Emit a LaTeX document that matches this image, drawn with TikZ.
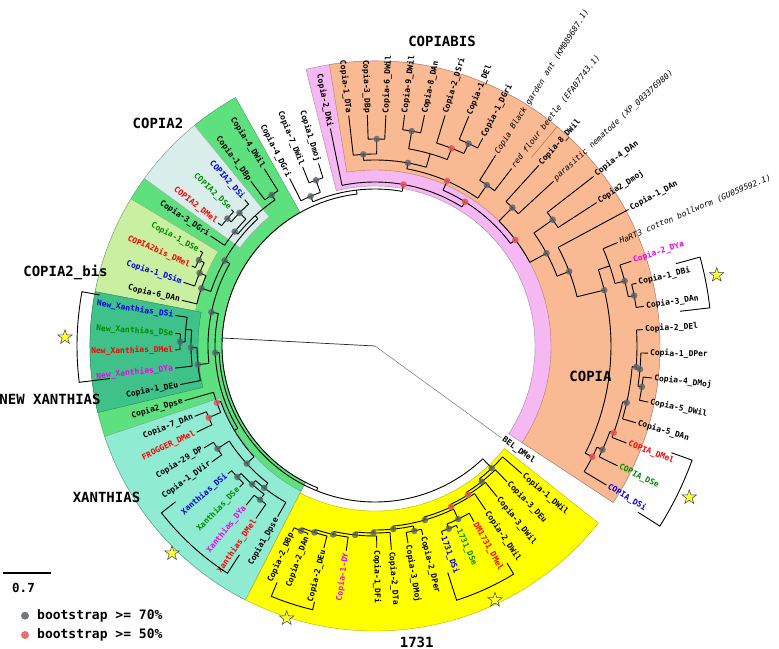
\documentclass[tikz,border=0pt]{standalone}
\usepackage{fontspec}
\usetikzlibrary{shapes.geometric}
\newfontfamily\monof{DejaVu Sans Mono}
\definecolor{cpink}{HTML}{F5B8F2}
\definecolor{corange}{HTML}{F9B992}
\definecolor{cyellow}{HTML}{FFFF00}
\definecolor{cgreen}{HTML}{5FE07F}
\definecolor{cpale}{HTML}{D9EEEB}
\definecolor{clime}{HTML}{C9F0A0}
\definecolor{cteal}{HTML}{3FC28A}
\definecolor{caqua}{HTML}{8FEBD2}
\definecolor{tred}{HTML}{FF0000}
\definecolor{tgreen}{HTML}{008A00}
\definecolor{tblue}{HTML}{0000E0}
\definecolor{tmag}{HTML}{F000F0}
\definecolor{dotgrey}{HTML}{56626A}
\definecolor{dotred}{HTML}{E05858}
\definecolor{stary}{HTML}{FFFF33}
\newcounter{lfc}
\newcommand\bandsec[5]{\filldraw[fill=#5,draw=#5!70!black,line width=0.4pt] ({#1}:#3pt) arc[start angle=#1,end angle=#2,radius=#3pt] -- ({#2}:#4pt) arc[start angle=#2,end angle=#1,radius=#4pt] -- cycle;}
\newcommand\tnode[6]{% name, angle, rparent, r, amin, amax
 \coordinate (#1) at ({#2}:#4pt);
 \draw[br] ({#2}:#3pt) -- (#1);
 \draw[br] ({#5}:#4pt) arc[start angle=#5,end angle=#6,radius=#4pt];}
\newcommand\tleaf[5]{% angle, rparent, rlabel, text, style
 \stepcounter{lfc}%
 \draw[br] ({#1}:#2pt) -- ({#1}:{(#3-2)*1pt});
 \pgfmathtruncatemacro\flip{and(#1>90,#1<270)}%
 \ifnum\flip=1
  \node[lab,#5,anchor=east,rotate={#1+180}] (leaf\arabic{lfc}) at ({#1}:#3pt) {#4};
 \else
  \node[lab,#5,anchor=west,rotate={#1}] (leaf\arabic{lfc}) at ({#1}:#3pt) {#4};
 \fi}
\newcommand\bracketp[5]{% a1, r1, a2, r2, R
 \draw[brk] ({#1}:#2pt) -- ({#1}:#5pt) arc[start angle=#1,end angle=#3,radius=#5pt] -- ({#3}:#4pt);}
\begin{document}
\begin{tikzpicture}[x=1pt,y=1pt,
 br/.style={line width=0.9pt,black},
 lab/.style={font=\monof\bfseries\fontsize{8}{9}\selectfont,inner sep=0pt,text=black},
 titl/.style={font=\monof\itshape\fontsize{8}{9}\selectfont},
 tcr/.style={text=tred}, tcg/.style={text=tgreen}, tcb/.style={text=tblue}, tcm/.style={text=tmag},
 grp/.style={font=\monof\bfseries\fontsize{14}{16}\selectfont,inner sep=0pt},
 leg/.style={font=\monof\bfseries\fontsize{13}{15}\selectfont,inner sep=0pt},
 brk/.style={line width=0.9pt,black},
 strs/.style={star,star points=5,star point ratio=2.5,fill=stary,draw=black!75,line width=0.5pt,minimum size=15pt,inner sep=0pt}]
\useasboundingbox (-375,-302) rectangle (404,346);
\fill[white] (-375,-302) rectangle (404,346);
% colour ranges
\bandsec{-33.3}{104}{160}{285}{cpink}
\bandsec{-33.3}{99.2}{176}{285}{corange}
\draw[corange!60!black,line width=0.4pt] (50.3:245pt) -- (50.3:285pt);
\bandsec{119.3}{243}{153}{285}{cgreen}
\bandsec{129.3}{144}{167}{285}{cpale}
\bandsec{148.9}{169}{183}{285}{clime}
\bandsec{169}{193.5}{177}{285}{cteal}
\bandsec{198.5}{243}{163}{285}{caqua}
\bandsec{243}{321.6}{165}{285}{cyellow}
% root
\coordinate (root) at (0,0);
\coordinate (A) at (177:153pt);
\draw[line width=0.7pt,black!85] (root) -- (A);
\draw[br] (96.75:153pt) arc[start angle=96.75,end angle=248,radius=153pt];
\draw[line width=0.5pt,black!55] (root) -- (324:156pt);
\node[lab,anchor=west,rotate=324] (bel) at (324:158pt) {BEL\_DMel};
% pink / white part
\tnode{W}{96.75}{153}{157}{80}{113.3}
\tnode{WC}{113.3}{157}{163}{109.6}{117}
\tnode{WCa}{109.6}{163}{176}{107.2}{112}
\tleaf{107.2}{176}{193}{Copia1\_Dmoj}{}
\tleaf{112}{176}{195}{Copia-7\_DWil}{}
\tleaf{117}{163}{190}{Copia-4\_DGri}{}
\tnode{P}{80}{157}{164}{58}{101.6}
\tleaf{101.6}{164}{224}{Copia-2\_DKi}{}
\tnode{X}{58}{164}{170}{37.1}{66.4}
\tnode{Y}{66.4}{170}{180}{55.2}{79.8}
\tnode{GA}{55.2}{180}{196}{52.4}{57.7}
\tleaf{52.4}{196}{226}{red flour beetle (EFA07743.1)}{titl}
\tleaf{57.7}{196}{228}{Copia Black garden ant (KM089687.1)}{titl}
\tnode{CB}{79.8}{180}{186}{74}{93.5}
\tnode{Ga}{93.5}{186}{192}{89.5}{96.5}
\tleaf{96.5}{192}{234}{Copia-1\_DTa}{}
\tnode{Gb}{89.5}{192}{207}{87.3}{91.9}
\tleaf{91.9}{207}{233}{Copia-3\_DBp}{}
\tleaf{87.3}{207}{233}{Copia-6\_DWil}{}
\tnode{Gc}{74}{186}{200}{68.8}{80.3}
\tnode{Gd}{80.3}{200}{218}{77.9}{82.7}
\tleaf{82.7}{218}{235}{Copia-9\_DWil}{}
\tleaf{77.9}{218}{238}{Copia-8\_DAn}{}
\tnode{Ge}{68.8}{200}{212}{65.2}{73.1}
\tleaf{73.1}{212}{243}{Copia-2\_DSri}{}
\tnode{Gf}{65.2}{212}{223}{62.6}{67.8}
\tleaf{67.8}{223}{250}{Copia-1\_DEl}{}
\tleaf{62.6}{223}{236}{Copia-1\_DGri}{}
\tnode{K}{37.1}{170}{176}{28.4}{45.2}
\tnode{Na}{45.2}{176}{195}{42.7}{47.8}
\tleaf{47.8}{195}{246}{Copia-8\_DWil}{}
\tleaf{42.7}{195}{245}{parasitic nematode (XP\_003376980)}{titl}
\tnode{Nb}{28.4}{176}{195}{21}{35.4}
\tnode{Nc}{35.4}{195}{218}{32.9}{37.8}
\tleaf{37.8}{218}{279}{Copia-4\_DAn}{}
\tleaf{32.9}{218}{266}{Copia2\_Dmoj}{}
\tnode{Nd}{21}{195}{208}{13.7}{28.3}
\tleaf{28.3}{208}{290}{Copia-1\_DAn}{}
\tnode{Q}{13.7}{208}{236}{-27}{18.85}
\tnode{H}{18.85}{236}{248}{14.6}{23.1}
\tleaf{23.1}{248}{266}{HaRT3 cotton bollworm (GU059592.1)}{titl}
\tnode{Ya}{14.6}{248}{258}{11}{18.3}
\tleaf{18.3}{258}{272}{Copia-2\_DYa}{tcm}
\tnode{Yb}{11}{258}{264}{8.4}{13.5}
\tleaf{13.5}{264}{271}{Copia-1\_DBi}{}
\tleaf{8.4}{264}{274}{Copia-3\_DAn}{}
\tnode{D1}{-27}{236}{244}{-31}{-24.5}
\tleaf{-31}{244}{272}{COPIA\_DSi}{tcb}
\tnode{D2}{-24.5}{244}{250}{-26.3}{-20}
\tleaf{-26.3}{250}{272.5}{COPIA\_DSe}{tcg}
\tnode{D3}{-20}{250}{254}{-21.1}{-12.7}
\tleaf{-21.1}{254}{271.6}{COPIA\_DMel}{tcr}
\tnode{C2}{-12.7}{254}{258}{-16.4}{-4.6}
\tleaf{-16.4}{258}{274}{Copia-5\_DAn}{}
\tnode{U}{-4.6}{258}{262}{-5}{3.5}
\tleaf{3.5}{262}{270.5}{Copia-2\_DEl}{}
\tnode{C4}{-5}{262}{266}{-8.7}{-1.5}
\tleaf{-1.5}{266}{275}{Copia-1\_DPer}{}
\tnode{C5}{-8.7}{266}{270}{-11.6}{-6.6}
\tleaf{-11.6}{270}{281}{Copia-5\_DWil}{}
\tleaf{-6.6}{270}{281}{Copia-4\_DMoj}{}
% green part
\tnode{G}{248}{153}{156}{182.4}{313.7}
\tnode{c3}{182.4}{156}{160}{168.3}{211}
\tnode{c2}{168.3}{160}{167}{150.4}{186}
\tnode{B5}{150.4}{167}{173}{132.6}{161.6}
\tnode{B7}{132.6}{173}{177}{124.4}{140.8}
\tnode{B1}{124.4}{177}{183}{122}{127}
\tleaf{122}{183}{211}{Copia-4\_DWil}{}
\tleaf{127}{183}{208}{Copia-1\_DBp}{}
\tnode{B4}{140.8}{177}{181}{135.5}{146.2}
\tnode{B3}{135.5}{181}{190}{131.7}{139.2}
\tleaf{131.7}{190}{198}{COPIA2\_DSi}{tcb}
\tnode{B2}{139.2}{190}{195}{136.5}{141.9}
\tleaf{136.5}{195}{200}{COPIA2\_DSe}{tcg}
\tleaf{141.9}{195}{201.4}{COPIA2\_DMel}{tcr}
\tleaf{146.2}{181}{200}{Copia-3\_DGri}{}
\tnode{b3}{161.6}{173}{183}{157.4}{166.7}
\tnode{b2}{157.4}{183}{190}{154}{161.6}
\tnode{b1}{154}{190}{196}{151.5}{156.4}
\tleaf{151.5}{196}{201}{Copia-1\_DSe}{tcg}
\tleaf{156.4}{196}{202}{COPIA2bis\_DMel}{tcr}
\tleaf{161.6}{190}{203.7}{Copia-1\_DSim}{tcb}
\tleaf{166.7}{183}{200.4}{Copia-6\_DAn}{}
\tnode{x4}{186}{167}{178}{180.5}{191.2}
\tnode{x3}{180.5}{178}{184}{175}{186.3}
\tnode{x2}{175}{184}{190}{171.3}{178.75}
\tleaf{171.3}{190}{204}{New\_Xanthias\_DSi}{tcb}
\tnode{x1}{178.75}{190}{195}{176.4}{181.1}
\tleaf{176.4}{195}{202}{New\_Xanthias\_DSe}{tcg}
\tleaf{181.1}{195}{201.7}{New\_Xanthias\_DMel}{tcr}
\tleaf{186.3}{184}{203}{New\_Xanthias\_DYa}{tcm}
\tleaf{191.2}{178}{200.5}{Copia-1\_DEu}{}
\tnode{c5}{211}{160}{164}{199.7}{222.5}
\tnode{p1}{199.7}{164}{168}{196}{203.3}
\tleaf{196}{168}{200}{Copia2\_Dpse}{}
\tnode{f1}{203.3}{168}{181}{201.3}{205.8}
\tleaf{201.3}{181}{195.5}{Copia-7\_DAn}{}
\tleaf{205.8}{181}{200}{FROGGER\_DMel}{tcr}
\tnode{xa5}{222.5}{164}{174}{213.1}{232}
\tnode{v1}{213.1}{174}{188}{210.8}{215.4}
\tleaf{210.8}{188}{201}{Copia-29\_DP}{}
\tleaf{215.4}{188}{202.3}{Copia-1\_DVir}{}
\tnode{xa4}{232}{174}{180}{228.4}{240.3}
\tnode{xa3}{228.4}{180}{185}{223.6}{233.2}
\tnode{xa1}{223.6}{185}{190}{221}{226.2}
\tleaf{221}{190}{197}{Xanthias\_DSi}{tcb}
\tleaf{226.2}{190}{197.4}{Xanthias\_DSe}{tcg}
\tnode{xa2}{233.2}{185}{192}{231}{235.4}
\tleaf{231}{192}{206.8}{Xanthias\_DYa}{tcm}
\tleaf{235.4}{192}{211.4}{Xanthias\_DMel}{tcr}
\tleaf{240.3}{180}{198.4}{Copia1\_Dpse}{}
% 1731
\tnode{y10}{313.7}{156}{169}{308.2}{319}
\tleaf{319}{169}{196.7}{Copia-1\_DWil}{}
\tnode{y11}{308.2}{169}{172.6}{302}{314.2}
\tleaf{314.2}{172.6}{191.4}{Copia-3\_DEu}{}
\tnode{y12}{302}{172.6}{175.5}{295.3}{309}
\tleaf{309}{175.5}{196}{Copia-3\_DWil}{}
\tnode{y13}{295.3}{175.5}{178}{286}{304}
\tleaf{304}{178}{199.8}{Copia-2\_DWil}{}
\tnode{y8}{286}{178}{181}{275.7}{295.7}
\tnode{y6}{275.7}{181}{184}{269.5}{282}
\tnode{y5}{269.5}{184}{187}{264}{274.6}
\tnode{y4}{264}{187}{190}{257.5}{270.5}
\tnode{y3}{257.5}{190}{193}{252}{262}
\tnode{y2}{252}{193}{196}{248.15}{255.8}
\tnode{y1}{248.15}{196}{199}{246}{250.3}
\tleaf{246}{199}{205}{Copia-2\_DBp}{}
\tleaf{250.3}{199}{202.6}{Copia-2\_DAn}{}
\tleaf{255.8}{196}{210.4}{Copia-2\_DEu}{}
\tleaf{262}{193}{208.8}{Copia-1-DY}{tcm}
\tleaf{270.5}{190}{204}{Copia-1\_DFi}{}
\tleaf{274.6}{187}{206.4}{Copia-2\_DTa}{}
\tnode{y7}{282}{184}{189}{279.5}{284.2}
\tleaf{279.5}{189}{201.8}{Copia-3\_DMoj}{}
\tleaf{284.2}{189}{196.7}{Copia-2\_DPer}{}
\tnode{yb}{295.7}{181}{192}{292}{299.4}
\tnode{ya}{292}{192}{197}{289.7}{294.4}
\tleaf{289.7}{197}{202.6}{1731\_DSi}{tcb}
\tleaf{294.4}{197}{202}{1731\_DSe}{tcg}
\tleaf{299.4}{192}{203.6}{DM1731\_DMel}{tcr}
% bootstrap dots
\foreach \n in {WC,WCa,GA,CB,Ga,Gb,Gd,Gf,Na,Nb,Nc,Nd,Q,Ya,Yb,D2,C2,U,C4,C5,c3,c2,B5,B1,B4,B3,B2,b3,b2,b1,x4,x3,x1,xa5,v1,xa4,xa3,xa1,xa2,y10,y11,y8,y6,y5,y4,y3,y2,y1,y7,yb,ya}
  \fill[dotgrey,opacity=.8] (\n) circle[radius=3.3pt];
\foreach \n in {P,X,Y,Ge,K,D1,D3,p1,f1,y12,y13}
  \fill[dotred,opacity=.85] (\n) circle[radius=3.3pt];
% brackets
\bracketp{-19.8}{315}{-32.3}{311}{337}
\bracketp{15.3}{312}{6.5}{307}{337}
\bracketp{-58.7}{254}{-72.2}{238}{267}
\bracketp{247.5}{256}{256.7}{263}{271}
\bracketp{218}{253}{237}{249}{271}
\bracketp{169.5}{280}{187}{267}{298}
% stars
\node[strs] (s1) at (341.7,71) {};
\node[strs] (s2) at (314.3,-151.3) {};
\node[strs] (s3) at (120,-254) {};
\node[strs] (s4) at (-88.3,-272.3) {};
\node[strs] (s5) at (-203,-207.3) {};
\node[strs] (s6) at (-310,8.7) {};
% clade names
\node[grp] (gcb) at (67,305) {COPIABIS};
\node[grp] (gc2) at (-217,223) {COPIA2};
\node[grp] (gc2b) at (-309.5,73.5) {COPIA2\_bis};
\node[grp] (gnx) at (-325,-53) {NEW XANTHIAS};
\node[grp] (gx) at (-268.5,-151) {XANTHIAS};
\node[grp] (gc) at (215.5,-30) {COPIA};
\node[grp] (g1731) at (41.7,-296) {1731};
% scale and legend
\coordinate (sb1) at (-371.7,-227.3);
\coordinate (sb2) at (-324.3,-227.3);
\draw[line width=2pt] (sb1) -- (sb2);
\node[font=\monof\bfseries\fontsize{12.5}{14}\selectfont,inner sep=0pt] (sbl) at (-351.5,-242) {0.7};
\fill[dotgrey,opacity=.85] (-350,-269.7) circle[radius=4pt];
\fill[dotred,opacity=.85] (-350,-289) circle[radius=4pt];
\node[leg,anchor=west] (l70) at (-338,-269.7) {bootstrap >= 70\%};
\node[leg,anchor=west] (l50) at (-338,-289) {bootstrap >= 50\%};
\end{tikzpicture}
\end{document}
